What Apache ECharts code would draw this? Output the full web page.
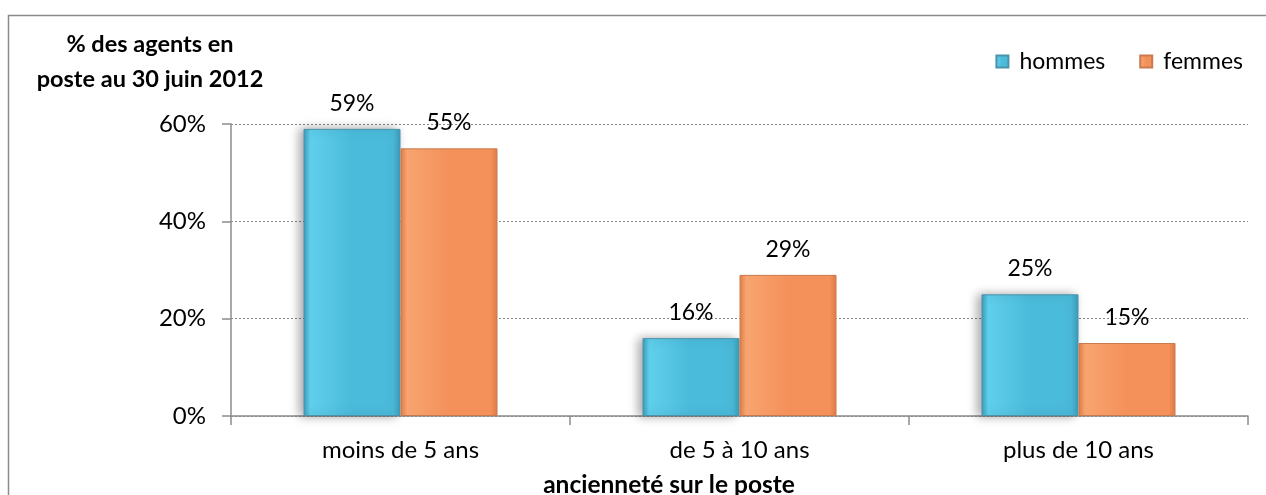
<!DOCTYPE html>
<html>
<head>
<meta charset="utf-8">
<script src="https://cdn.jsdelivr.net/npm/echarts@6/dist/echarts.min.js"></script>
<style>
  html, body { margin: 0; padding: 0; background: #fff; }
  #chart { width: 1266px; height: 495px; }
</style>
</head>
<body>
<div id="chart"></div>
<script>
// data
const categories = ["moins de 5 ans", "de 5 à 10 ans", "plus de 10 ans"];
const hommes = [59, 16, 25];
const femmes = [55, 29, 15];
const yTicks = [0, 20, 40, 60];

const FONT = "Lato, 'Open Sans', sans-serif";

function bevel(edge, mid, light) {
  return new echarts.graphic.LinearGradient(0, 0, 1, 0, [
    { offset: 0, color: edge },
    { offset: 0.07, color: light },
    { offset: 0.5, color: mid },
    { offset: 0.93, color: mid },
    { offset: 1, color: edge }
  ]);
}

const chart = echarts.init(document.getElementById("chart"));

const labelStyle = {
  show: true,
  position: "top",
  distance: 14,
  fontFamily: FONT,
  fontSize: 23,
  color: "#000",
  formatter: p => p.value + "%"
};

chart.setOption({
  animation: false,
  textStyle: { fontFamily: FONT },
  grid: { left: 231, right: 18, top: 124, bottom: 79 },
  legend: {
    right: 18,
    top: 45,
    icon: "rect",
    itemWidth: 12,
    itemHeight: 12,
    itemGap: 34,
    textStyle: { fontSize: 23, color: "#000", fontFamily: FONT, padding: [0, 0, 0, 6] },
    data: ["hommes", "femmes"]
  },
  graphic: [
    {
      type: "rect",
      shape: { x: 8.5, y: 15.5, width: 1270, height: 500 },
      style: { fill: "none", stroke: "#8a8a8a", lineWidth: 1.5 },
      silent: true
    },
    {
      type: "text",
      x: 150,
      y: 27,
      style: {
        text: "% des agents en\nposte au 30 juin 2012",
        fontFamily: FONT,
        fontWeight: "bold",
        fontSize: 23.5,
        lineHeight: 35,
        align: "center",
        fill: "#000"
      }
    },
    {
      type: "text",
      x: 669,
      y: 485,
      style: {
        text: "ancienneté sur le poste",
        fontFamily: FONT,
        fontWeight: "bold",
        fontSize: 24.5,
        align: "center",
        verticalAlign: "middle",
        fill: "#000"
      }
    }
  ],
  xAxis: {
    type: "category",
    data: categories,
    axisLine: { lineStyle: { color: "#8c8c8c", width: 1.5 } },
    axisTick: { show: true, length: 9, lineStyle: { color: "#8c8c8c", width: 1.5 } },
    axisLabel: { fontSize: 24, color: "#000", margin: 22, fontFamily: FONT }
  },
  yAxis: {
    type: "value",
    min: yTicks[0],
    max: yTicks[yTicks.length - 1],
    interval: 20,
    axisLine: { show: true, lineStyle: { color: "#8c8c8c", width: 1.5 } },
    axisTick: { show: true, length: 9, lineStyle: { color: "#8c8c8c", width: 1.5 } },
    axisLabel: { fontSize: 24, color: "#000", margin: 25, fontFamily: FONT, formatter: "{value}%" },
    splitLine: { lineStyle: { color: "#888", type: [2, 2], width: 1 } }
  },
  series: [
    {
      name: "hommes",
      type: "bar",
      data: hommes,
      barWidth: 97,
      barGap: "0%",
      itemStyle: {
        color: bevel("#3a9cbb", "#4bbbdb", "#5fcfec"),
        borderColor: "#4a93aa",
        borderWidth: 1,
        shadowColor: "rgba(0,0,0,0.35)",
        shadowBlur: 10,
        shadowOffsetX: -4
      },
      label: labelStyle
    },
    {
      name: "femmes",
      type: "bar",
      data: femmes,
      barWidth: 97,
      itemStyle: {
        color: bevel("#de7a42", "#f4915a", "#f8a470"),
        borderColor: "#c97a4e",
        borderWidth: 1
      },
      label: labelStyle
    }
  ]
});
</script>
</body>
</html>
